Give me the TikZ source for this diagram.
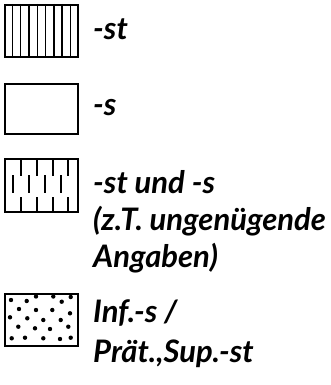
\documentclass[tikz,border=0pt]{standalone}
\usepackage{fontspec}
\setmainfont{Lato}
\usetikzlibrary{positioning,calc}

\begin{document}
\begin{tikzpicture}[
    x=1pt, y=-1pt,
    key/.style={rectangle, draw, line width=1.7pt, minimum width=73pt, minimum height=52pt, inner sep=0pt, anchor=north west},
    lbl/.style={anchor=base west, inner sep=0pt, font=\fontsize{31}{36}\selectfont\bfseries\itshape},
    hatch/.style={line width=1.4pt}
]
    \useasboundingbox (0,0) rectangle (331,385);

    % -st : vertical stripes
    \node[key] (st) at (4,4) {};
    \foreach \i in {1,...,8}
        \draw[hatch] ($(st.north west)!\i/9!(st.north east)$) -- ($(st.south west)!\i/9!(st.south east)$);
    \node[lbl] (stlbl) at (93,40) {-st};

    % -s : empty
    \node[key, minimum height=50pt] (s) at (4,83) {};
    \node[lbl] (slbl) at (93,116) {-s};

    % -st und -s : broken stripes
    \node[key, minimum height=53pt] (mix) at (4,158) {};
    \begin{scope}[shift={(mix.north west)}]
        \foreach \x in {17,33,49,64} {
            \draw[hatch] (\x,0) -- (\x,18);
            \draw[hatch] (\x,39) -- (\x,53);
        }
        \foreach \x in {9,25,41,57}
            \draw[hatch] (\x,17) -- (\x,35);
    \end{scope}
    \node[lbl] (mixlbl) at (93,193) {-st und -s};
    \node[lbl] (mixlblb) at (93,230) {(z.T. ungenügende};
    \node[lbl] (mixlblc) at (93,267) {Angaben)};

    % Inf.-s / Praet., Sup.-st : dots
    \node[key] (inf) at (4,293) {};
    \begin{scope}[shift={(inf.north west)}]
        \foreach \p in {(7,7),(22.7,8),(32,3.5),(49.3,3.5),(57.7,8.7),(66.7,4),
                        (15,16),(32,17),(48.3,17),(66,20.3),
                        (6,24.3),(23.3,25.3),(39.3,27),(56.7,27),
                        (14.3,33.7),(31,35.3),(46,36),(64.3,33.7),
                        (7.7,45.3),(21,44.7),(39.3,45.3),(56,46),(66.7,44.7)}
            \fill \p circle[radius=2.2pt];
    \end{scope}
    \node[lbl] (inflbl) at (93,322) {Inf.-s /};
    \node[lbl] (inflblb) at (93,362) {Prät.,Sup.-st};
\end{tikzpicture}
\end{document}
